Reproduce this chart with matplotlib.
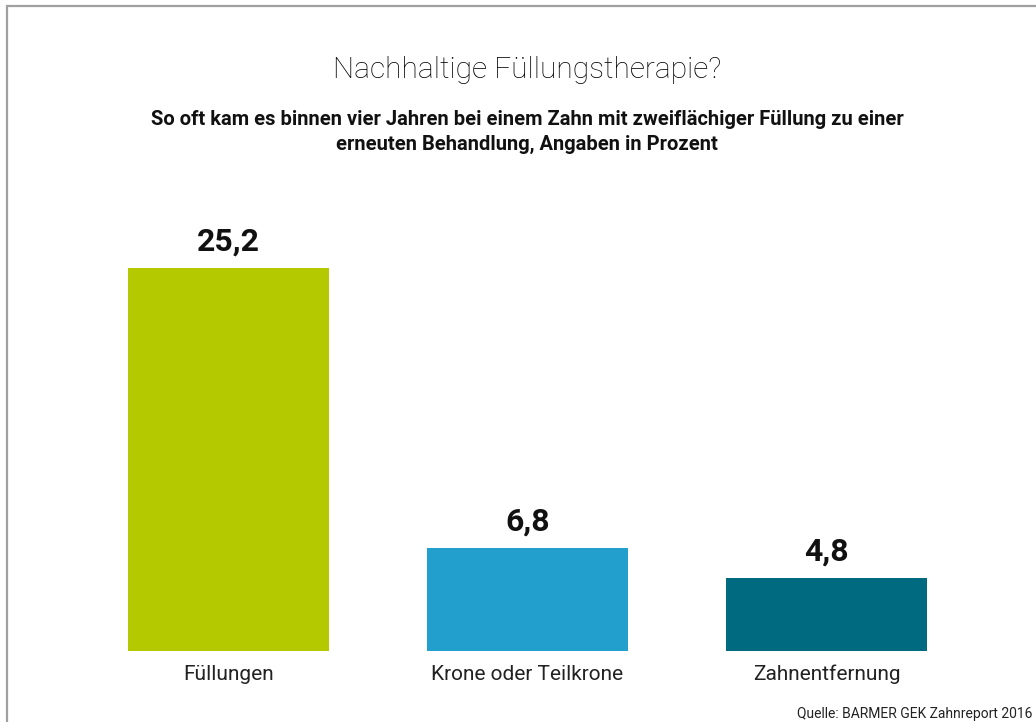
import matplotlib
matplotlib.use('Agg')
import matplotlib.pyplot as plt
from matplotlib.patches import Rectangle

# --- data ---
categories = ['Füllungen', 'Krone oder Teilkrone', 'Zahnentfernung']
values = [25.2, 6.8, 4.8]
value_labels = ['25,2', '6,8', '4,8']
colors = ['#b5c900', '#229fcd', '#006a80']

title = 'Nachhaltige Füllungstherapie?'
subtitle = ('So oft kam es binnen vier Jahren bei einem Zahn mit zweiflächiger Füllung zu einer\n'
            'erneuten Behandlung, Angaben in Prozent')
source = 'Quelle: BARMER GEK Zahnreport 2016'

plt.rcParams['font.family'] = ['Roboto', 'DejaVu Sans']

W, H = 1036, 722
fig = plt.figure(figsize=(W / 100, H / 100), dpi=100)
fig.patch.set_facecolor('white')

# grey frame, open at right and bottom (cropped)
fig.add_artist(Rectangle((7 / W, -0.1), 1.2, (722 - 6) / H + 0.1, transform=fig.transFigure,
                         fill=False, edgecolor='#a0a0a0', linewidth=1.6))

# axes: baseline at y=651 px, 25.2 at y=268 px
left = 79 / W
width = 897 / W
bottom = (H - 651) / H
height = (651 - 268) / H
ax = fig.add_axes([left, bottom, width, height])
ax.set_xlim(-0.5, 2.5)
ax.set_ylim(0, values[0])
ax.axis('off')

x = range(len(categories))
ax.bar(x, values, width=201 / 299, color=colors)

for i, (v, lab) in enumerate(zip(values, value_labels)):
    ax.annotate(lab, (i, v), xytext=(0, 8), textcoords='offset points',
                ha='center', va='bottom', fontsize=23, fontweight='bold', color='#111111',
                annotation_clip=False)
    ax.annotate(categories[i], (i, 0), xytext=(0, -10), textcoords='offset points',
                ha='center', va='top', fontsize=15, color='#222222', annotation_clip=False)

fig.text(527 / W, 1 - 70 / H, title, ha='center', va='center', fontsize=21.5,
         fontweight='light', color='#000000')
fig.text(527 / W, 1 - 132 / H, subtitle, ha='center', va='center', fontsize=14.5,
         fontweight='bold', color='#111111', linespacing=1.45)
fig.text(1032 / W, 1 - 714 / H, source, ha='right', va='center', fontsize=10, color='#222222')

fig.savefig('out.png', dpi=100, facecolor='white')
